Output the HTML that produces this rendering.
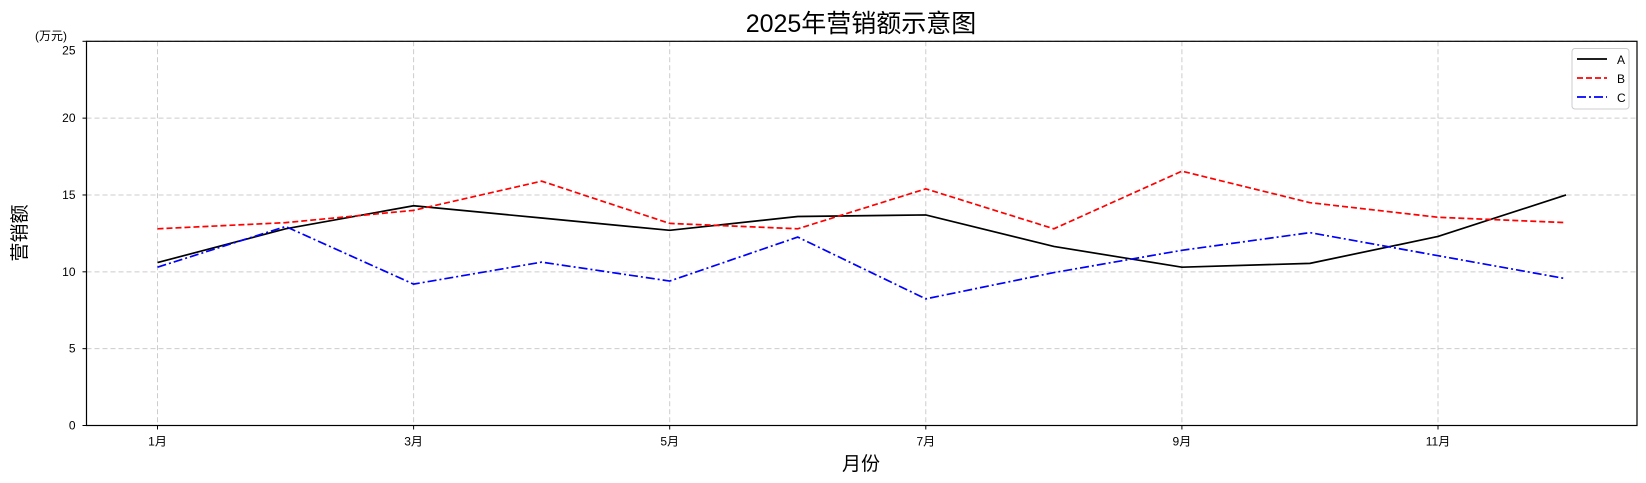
<!DOCTYPE html>
<html><head><meta charset="utf-8">
<style>
body{margin:0;background:#fff;}
svg{display:block;font-family:"Liberation Sans","Noto Sans CJK SC",sans-serif;}
</style></head>
<body>
<svg id="chart" width="1646" height="483"></svg>
<script>
const months = ["1月","2月","3月","4月","5月","6月","7月","8月","9月","10月","11月","12月"];
const seriesA = [10.6,12.8,14.3,13.5,12.7,13.6,13.7,11.65,10.3,10.55,12.3,15.0];
const seriesB = [12.8,13.2,14.0,15.9,13.15,12.8,15.4,12.8,16.55,14.5,13.55,13.2];
const seriesC = [10.3,12.95,9.2,10.63,9.4,12.26,8.24,9.95,11.4,12.55,11.05,9.55];
const yTicks = [0,5,10,15,20,25];
const xTickIdx = [0,2,4,6,8,10];

const NS="http://www.w3.org/2000/svg";
const svg=document.getElementById('chart');
const L=86.5,R=1637,T=41.3,B=425.5;
const x0=157.5,dx=128.05;
const x=i=>x0+i*dx;
const y=v=>B-(v/25)*(B-T);
function mk(tag,attrs,parent){const e=document.createElementNS(NS,tag);for(const k in attrs)e.setAttribute(k,attrs[k]);(parent||svg).appendChild(e);return e;}

const grid=mk('g',{});


yTicks.forEach(v=>{
  const l=mk('line',{x1:L,x2:R,y1:y(v),y2:y(v),stroke:'#ccc','stroke-dasharray':'5,3','stroke-width':1},grid);
  
  
  const t=mk('text',{x:L-11,y:(v===25?y(v)+13:y(v)+4),'text-anchor':'end','font-size':12,fill:'#000'});
  t.textContent=v;
  
  
  mk('line',{x1:L-4,x2:L,y1:y(v),y2:y(v),stroke:'#000'});
});
xTickIdx.forEach(i=>{
  const l=mk('line',{x1:x(i),x2:x(i),y1:T,y2:B,stroke:'#ccc','stroke-dasharray':'5,3','stroke-width':1},grid);
  
  
  mk('line',{x1:x(i),x2:x(i),y1:B,y2:B+4,stroke:'#000'});
  const t=mk('text',{x:x(i),y:B+20,'text-anchor':'middle','font-size':12,fill:'#000'});
  t.textContent=months[i];
  
  
});
const frame=mk('rect',{x:L,y:T,width:R-L,height:B-T,fill:'none',stroke:'#000','stroke-width':1.2});



const defs=[[seriesA,'#000','none','series-a'],[seriesB,'#f00','6,3','series-b'],[seriesC,'#00f','9,3,2,3','series-c']];
defs.forEach(([d,c,dash,name])=>{
  const p=mk('polyline',{points:d.map((v,i)=>x(i)+','+y(v)).join(' '),fill:'none',stroke:c,'stroke-width':1.7,'stroke-dasharray':dash});
  
  
});

const title=mk('text',{x:861,y:32,'text-anchor':'middle','font-size':25,fill:'#000'});
title.textContent='2025年营销额示意图';


const unit=mk('text',{x:35,y:40,'font-size':12,fill:'#000'});
unit.textContent='(万元)';


const yl=mk('text',{x:26,y:233,'text-anchor':'middle','font-size':19,fill:'#000',transform:'rotate(-90 26 233)'});
yl.textContent='营销额';


const xl=mk('text',{x:861,y:470,'text-anchor':'middle','font-size':19,fill:'#000'});
xl.textContent='月份';



const lg=mk('g',{});


mk('rect',{x:1572,y:48.5,width:57,height:60.5,fill:'#fff',stroke:'#ccc',rx:3},lg);
defs.forEach(([d,c,dash,name],k)=>{
  const yy=59+k*19;
  mk('line',{x1:1577,x2:1607,y1:yy,y2:yy,stroke:c,'stroke-width':1.7,'stroke-dasharray':dash},lg);
  const t=mk('text',{x:1617,y:yy+5,'font-size':12,fill:'#000'},lg);
  t.textContent=['A','B','C'][k];
  
  
});
</script>
</body></html>
